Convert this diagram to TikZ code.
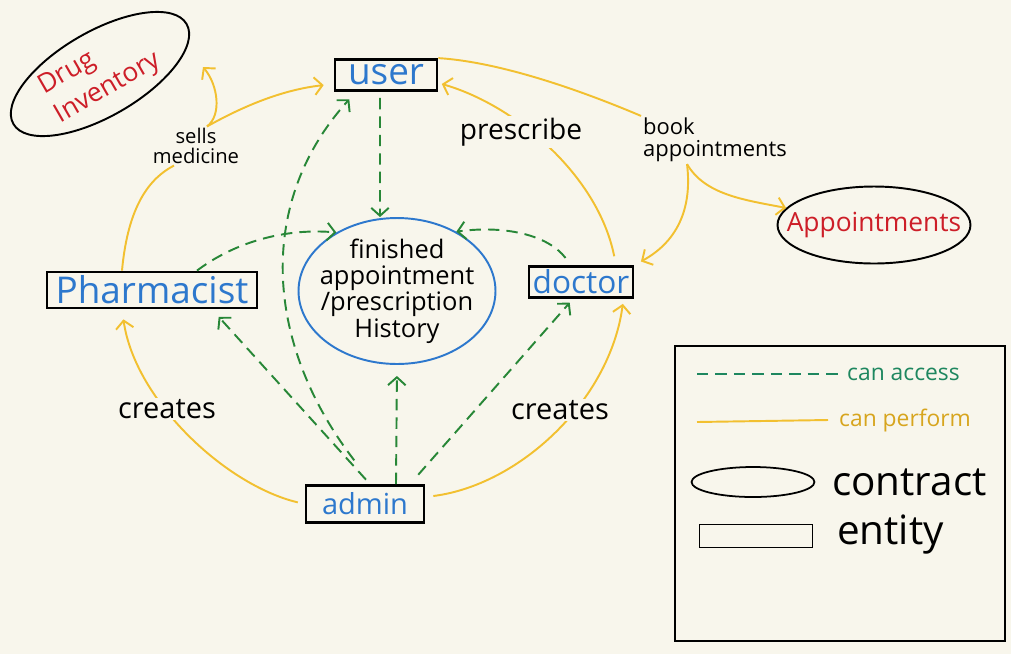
\documentclass[tikz,border=0pt]{standalone}
\usepackage{fontspec}
\setmainfont{Open Sans}
\usetikzlibrary{arrows.meta}
\usetikzlibrary{shapes.geometric}

\definecolor{paper}{RGB}{248,246,236}
\definecolor{entblue}{RGB}{45,120,205}
\definecolor{conred}{RGB}{205,30,40}
\definecolor{perfyellow}{RGB}{242,192,48}
\definecolor{accgreen}{RGB}{40,135,55}
\definecolor{legteal}{RGB}{30,135,95}
\definecolor{leggold}{RGB}{215,165,30}

\begin{document}
\begin{tikzpicture}[x=0.02cm, y=-0.02cm,
  >={Straight Barb[length=4.5pt,width=10pt]},
  entity/.style={draw, line width=1.6pt, inner sep=0pt, text=entblue},
  contract/.style={draw, ellipse, line width=1.1pt, inner sep=0pt, text=conred},
  perform/.style={perfyellow, line width=1.1pt},
  access/.style={accgreen, line width=1.1pt, dash pattern=on 6.5pt off 4pt},
  lbl/.style={inner sep=1pt}]
\fill [paper] (0,0) rectangle (1011,654);
\useasboundingbox (0,0) rectangle (1011,654);

% entities
\node [entity, minimum width=2.04cm, minimum height=0.62cm, font=\fontsize{21}{24}\selectfont] (user) at (386,75) {user};
\node [entity, minimum width=4.2cm, minimum height=0.72cm, font=\fontsize{21}{24}\selectfont] (ph) at (152,290) {Pharmacist};
\node [entity, minimum width=2.08cm, minimum height=0.62cm, font=\fontsize{18}{20}\selectfont] (doctor) at (581,282) {doctor};
\node [entity, minimum width=2.36cm, minimum height=0.74cm, font=\fontsize{16.5}{18}\selectfont] (admin) at (365,504) {admin};

% contracts
\node [contract, rotate=30, minimum width=4cm, minimum height=1.7cm, align=left, font=\fontsize{15}{19}\selectfont] (drug) at (100,74) {Drug\\Inventory};
\node [contract, inner xsep=-12pt, minimum width=3.86cm, minimum height=1.54cm, font=\fontsize{15}{18}\selectfont] (appts) at (874,225) {Appointments};
\node [contract, draw=entblue, text=black, inner xsep=-12pt, inner ysep=-6pt, minimum width=3.94cm, minimum height=2.92cm, align=center, font=\fontsize{14.5}{15}\selectfont] (hist) at (397,291) {finished\\appointment\\/prescription\\History};
\coordinate (drugtip) at (203,67);

\node [lbl, align=center, font=\fontsize{11.5}{11}\selectfont] (sells) at (196,146) {sells\\medicine};
\node [lbl, align=left, font=\fontsize{12.5}{12.5}\selectfont] (book) at (715,140) {book\\appointments};

% can perform
\draw [perform] ([xshift=-0.6cm]ph.north) .. controls (128,205) and (150,178) .. ([xshift=-0.44cm]sells.south);
\draw [perform,->] ([xshift=0.22cm]sells.north) .. controls (222,115) and (218,85) .. (drugtip);
\draw [perform,->,shorten >=0.2cm] ([xshift=0.22cm]sells.north) .. controls (240,108) and (280,90) .. ([yshift=-0.18cm]user.west);
\draw [perform] (user.north east) .. controls (500,62) and (580,90) .. (book.north west);
\draw [perform,->] ([xshift=-0.56cm]book.south) .. controls (705,195) and (745,200) .. (appts);
\draw [perform,->,shorten >=0.15cm] ([xshift=-0.56cm]book.south) .. controls (692,205) and (680,240) .. (doctor.north east);
\draw [perform,->,shorten <=0.18cm,shorten >=2pt] ([xshift=0.7cm]doctor.north) .. controls (598,175) and (515,105) .. ([yshift=-0.16cm]user.east);
\draw [perform,->,shorten <=0.14cm,shorten >=0.2cm] (admin.west) .. controls (225,485) and (135,400) .. ([xshift=-0.6cm]ph.south);
\draw [perform,->,shorten <=0.16cm,shorten >=0.1cm] ([yshift=0.14cm]admin.east) .. controls (520,485) and (610,400) .. ([xshift=0.85cm]doctor.south);

% can access
\draw [access,->,shorten <=0.12cm] ([xshift=-0.12cm]user.south) -- ([xshift=-0.34cm]hist.north);
\draw [access,->] ([xshift=0.9cm]ph.north) .. controls (235,242) and (285,228) .. (hist.136);
\draw [access,->,shorten <=0.18cm] ([xshift=-0.2cm]doctor.north) .. controls (548,235) and (505,225) .. (hist.45);
\draw [access,->,shorten <=0.12cm,shorten >=0.2cm] ([xshift=0.1cm]admin.north) -- ([xshift=1.2cm]ph.south);
\draw [access,->,shorten <=0.6cm,shorten >=0.2cm] ([xshift=0.15cm]admin.north) .. controls (262,340) and (258,200) .. ([xshift=-0.6cm]user.south);
\draw [access,->,shorten >=0.22cm] ([xshift=0.62cm]admin.north) -- (hist.south);
\draw [access,->,shorten <=0.25cm,shorten >=0.1cm] ([xshift=0.9cm]admin.north) -- ([xshift=-0.16cm]doctor.south);

\node [lbl, fill=paper, font=\fontsize{16}{18}\selectfont] (prescribe) at (521,132) {prescribe};
\node [lbl, fill=paper, font=\fontsize{16.5}{18}\selectfont] (createsph) at (167,409) {creates};
\node [lbl, fill=paper, font=\fontsize{16.5}{18}\selectfont] (createsdoc) at (560,410) {creates};

% legend
\draw [line width=1.3pt] (675,346) rectangle (1005,641);
\node [anchor=west, text=legteal, font=\fontsize{13}{15}\selectfont] (lgaccess) at (841,374) {can access};
\draw [access, legteal] (697,374) -- (lgaccess.west);
\node [anchor=west, text=leggold, font=\fontsize{13}{15}\selectfont] (lgperform) at (833,420) {can perform};
\draw [perform] (697,422) -- ([xshift=-0.1cm]lgperform.west);
\node [contract, line width=1pt, minimum width=2.46cm, minimum height=0.6cm] (lgcontract) at (753,482) {};
\node [anchor=west, font=\fontsize{23}{26}\selectfont] (lgcontracttxt) at (826,482) {contract};
\node [draw, line width=1pt, inner sep=0pt, minimum width=2.26cm, minimum height=0.46cm] (lgentity) at (756,536) {};
\node [anchor=west, font=\fontsize{23}{26}\selectfont] (lgentitytxt) at (831,535) {entity};
\end{tikzpicture}
\end{document}
